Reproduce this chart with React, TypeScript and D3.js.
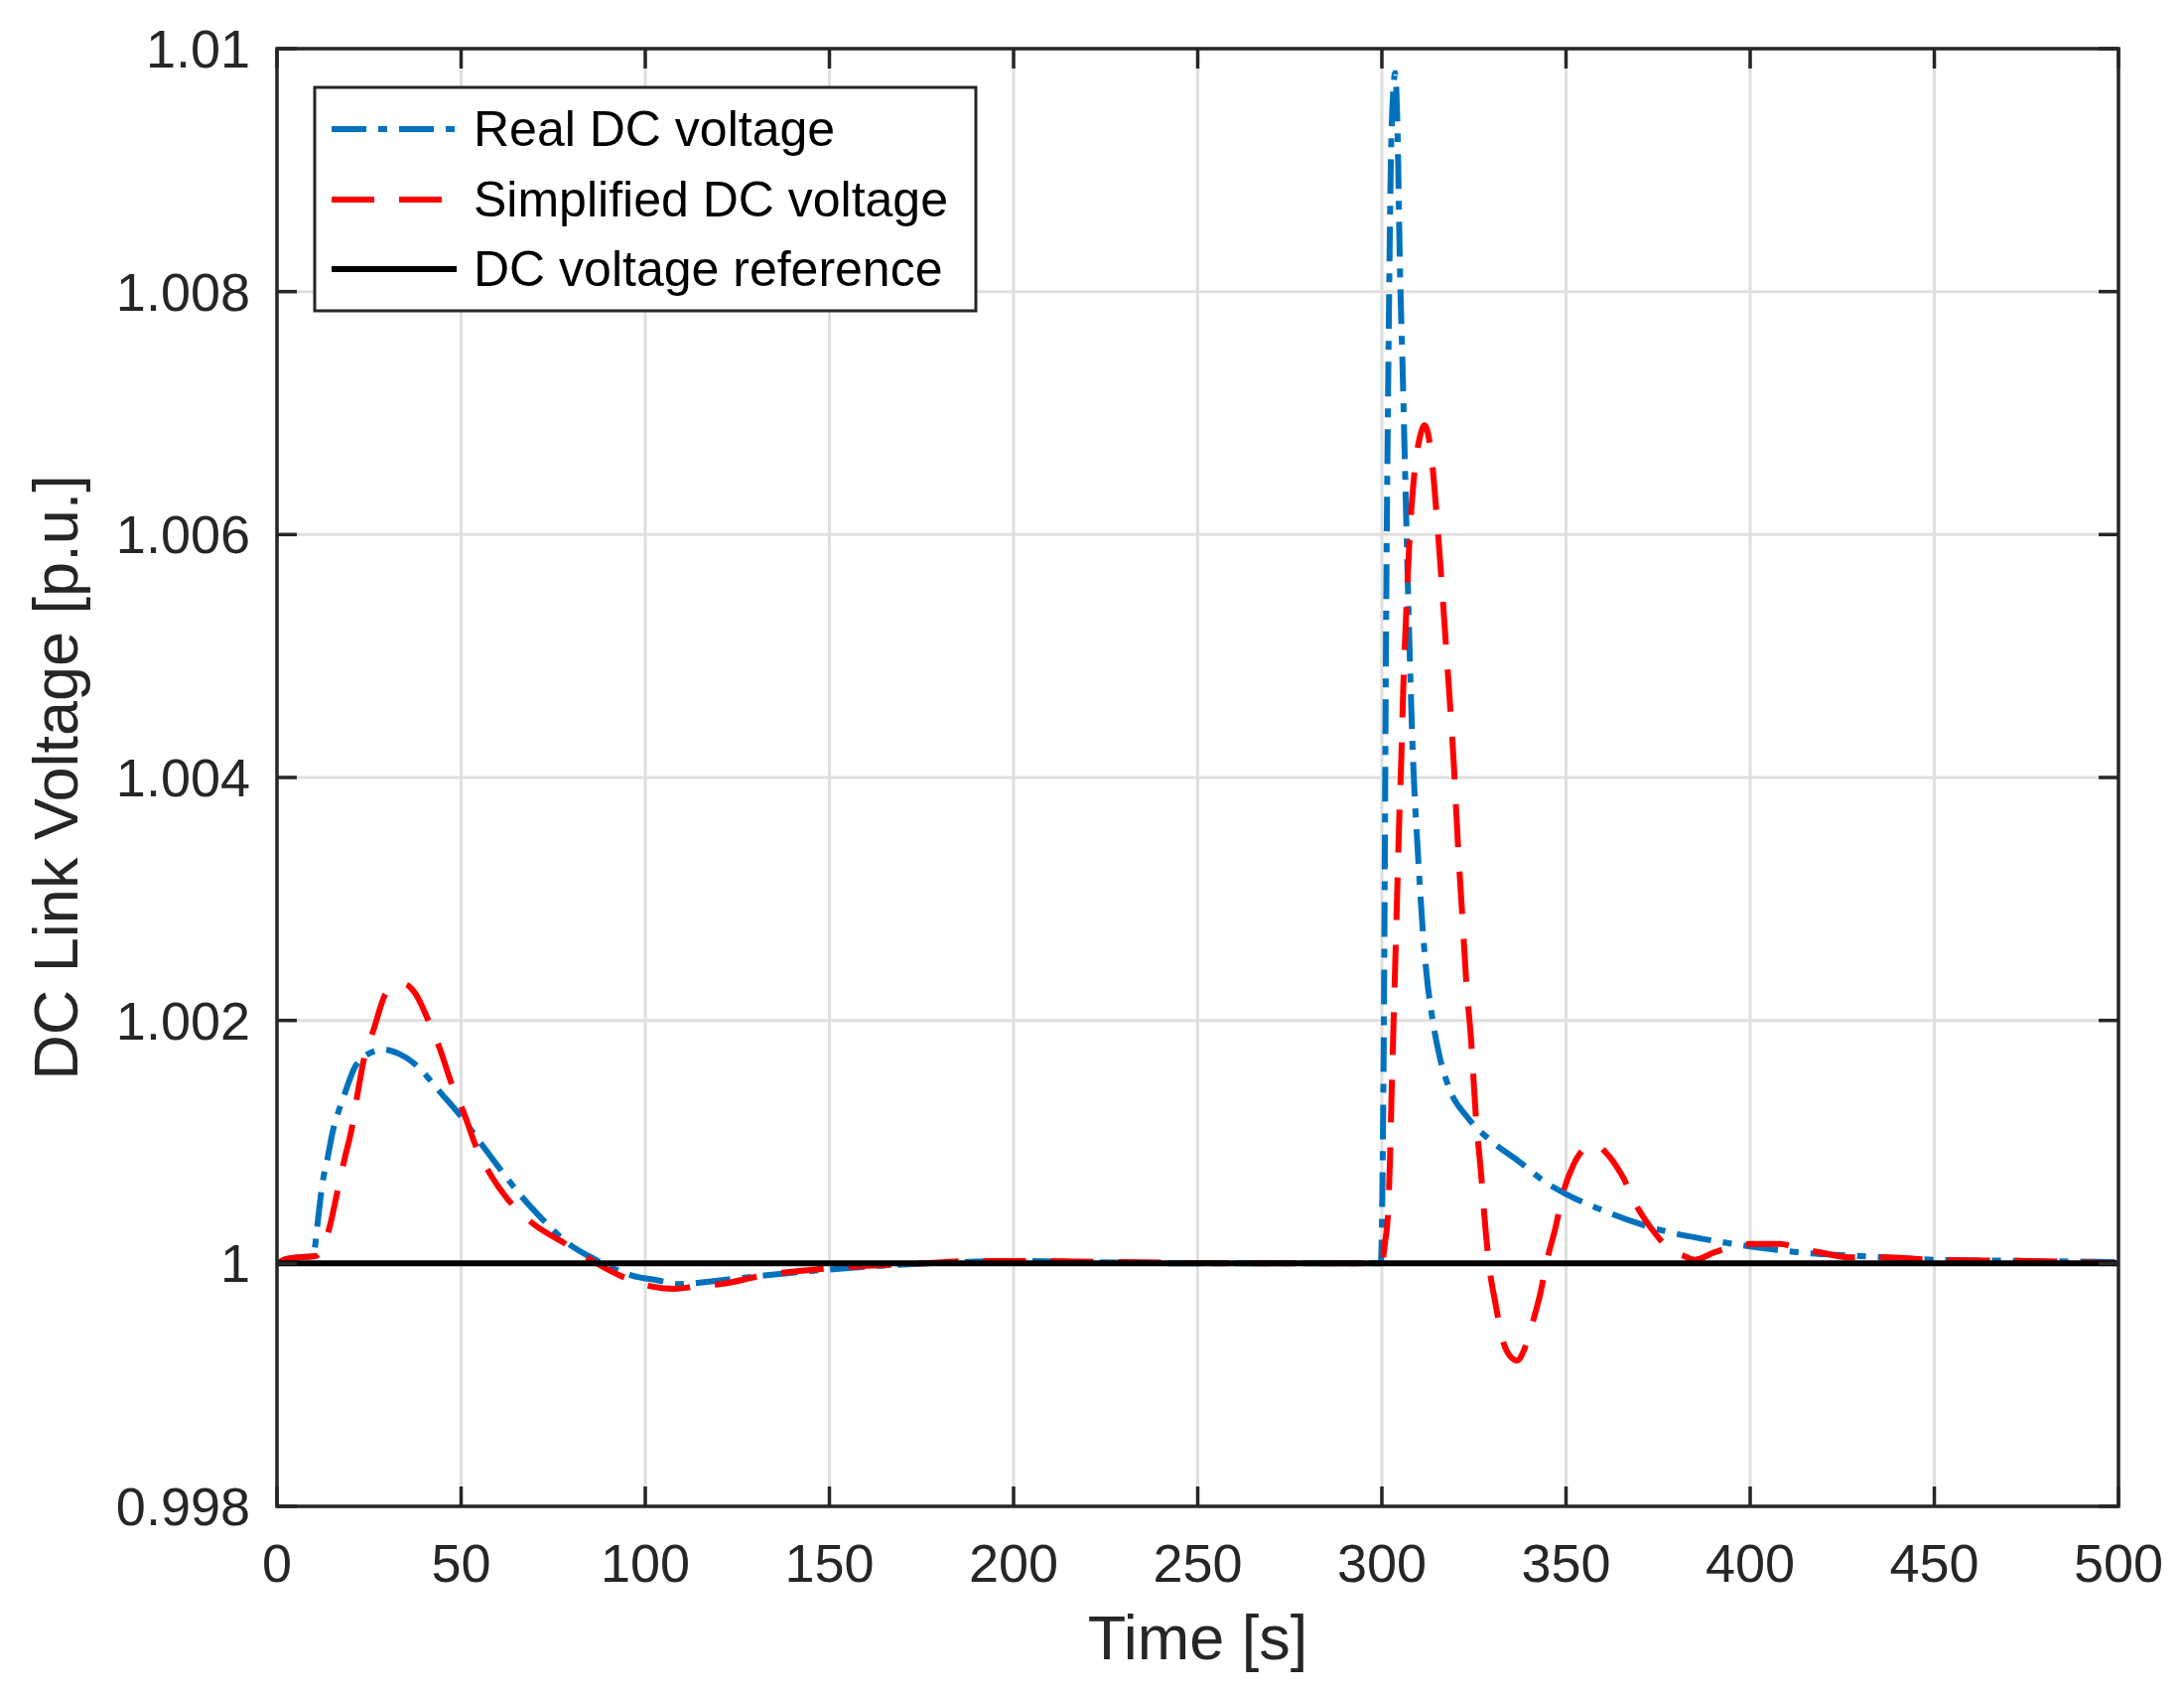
import React from "react";
import * as d3 from "d3";

// time axis ticks and voltage ticks
const xTicks = [0, 50, 100, 150, 200, 250, 300, 350, 400, 450, 500];
const yTicks = [0.998, 1, 1.002, 1.004, 1.006, 1.008, 1.01];
const yTickLabels = ["0.998", "1", "1.002", "1.004", "1.006", "1.008", "1.01"];

const legendLabels = ["Real DC voltage", "Simplified DC voltage", "DC voltage reference"];

// Real DC voltage
const realTime = [
  0, 2, 6, 10, 10.3, 11, 12.4, 13.7, 15.1, 16.4, 18.2, 20.9, 24.5, 29, 33.5, 37.1, 39.8,
  44.3, 49.7, 55.1, 60.5, 65.9, 72.2, 78.4, 86.5, 91.9, 96.4, 103.5, 108.9, 114.3, 123.3,
  132.3, 150, 170, 185, 200, 220, 250, 280, 299.7, 300.5, 301.2, 301.8, 302.4, 303.2,
  303.6, 304.2, 304.9, 305.6, 306.4, 307.3, 308.4, 309.8, 310.9, 312, 313.8, 315.7,
  318.3, 323.3, 330, 337.2, 344.4, 350.7, 359.7, 369.5, 377.6, 387.5, 400, 413.6, 427,
  436, 450, 475, 500,
];
const realVolt = [
  1.0, 1.00003, 1.00005, 1.00006, 1.00013, 1.00032, 1.00067, 1.00086, 1.00108, 1.00122,
  1.00138, 1.0016, 1.00172, 1.00176, 1.00172, 1.00165, 1.00157, 1.00141, 1.00122, 1.001,
  1.00078, 1.00057, 1.00036, 1.00018, 1.00003, 0.99995, 0.9999, 0.99986, 0.99983,
  0.99984, 0.99987, 0.9999, 0.99995, 0.99999, 1.00001, 1.00002, 1.00001, 1.0, 1.0, 1.0,
  1.0018, 1.0055, 1.0075, 1.009, 1.0097, 1.0098, 1.0094, 1.0082, 1.0074, 1.0064, 1.0053,
  1.0042, 1.00337, 1.00283, 1.00242, 1.002, 1.0017, 1.00144, 1.0012, 1.001, 1.00084,
  1.00067, 1.00056, 1.00044, 1.00033, 1.00026, 1.0002, 1.00014, 1.00009, 1.000065,
  1.00005, 1.00003, 1.00002, 1.00001,
];

// Simplified DC voltage
const simTime = [
  0, 2, 6, 10.5, 14.2, 16.4, 18.2, 20.5, 21.8, 23.6, 26.3, 29.5, 32, 34.5, 37.6, 41.1,
  44.3, 47.4, 50.6, 54.2, 57.8, 64, 69.4, 78.4, 86.5, 94.6, 101.8, 108, 113.5, 120.6,
  132, 150, 175, 190, 200, 230, 260, 300, 300.8, 301.7, 302.2, 302.6, 303.1, 303.7,
  304.2, 304.7, 305.3, 305.8, 306.5, 307.4, 308.9, 310.3, 311.6, 313.4, 315.1, 317.6,
  319.4, 320.8, 321.9, 323, 324.2, 325.5, 326.9, 328.2, 329.1, 330.9, 332.7, 334.7,
  336.7, 338.5, 340.8, 343, 344.8, 347.1, 349.3, 352, 355.2, 357.9, 360.6, 365.1, 369.6,
  374.1, 377.6, 382.1, 385, 390.2, 395.6, 400, 408.1, 413.6, 419, 427, 436, 450, 475, 500,
];
const simVolt = [
  1.0, 1.00003, 1.00005, 1.00006, 1.00029, 1.00059, 1.00084, 1.00114, 1.00138, 1.00168,
  1.00193, 1.00222, 1.00228, 1.0023, 1.00222, 1.002, 1.00176, 1.00148, 1.00125, 1.00095,
  1.00074, 1.00048, 1.00033, 1.00016, 1.000005, 0.99988, 0.99981, 0.99979, 0.99981,
  0.99983, 0.9999, 0.99996, 1.0, 1.00002, 1.00002, 1.00001, 1.0, 1.0, 1.00016, 1.00043,
  1.00086, 1.00135, 1.0019, 1.00255, 1.0031, 1.00364, 1.00418, 1.00473, 1.00528,
  1.0059, 1.00653, 1.0068, 1.0069, 1.00666, 1.00607, 1.005, 1.00418, 1.00337, 1.00283,
  1.00228, 1.00185, 1.00122, 1.00075, 1.00026, 0.99999, 0.99966, 0.99938, 0.99924,
  0.9992, 0.99928, 0.9995, 0.99975, 1.00002, 1.00029, 1.00059, 1.00081, 1.00095,
  1.00098, 1.00092, 1.00073, 1.00045, 1.00025, 1.00013, 1.00006, 1.00003, 1.00009,
  1.00014, 1.00016, 1.00016, 1.00012, 1.00009, 1.00005, 1.00005, 1.00003, 1.00002, 1.0,
];

// DC voltage reference
const refTime = [0, 500];
const refVolt = [1, 1];

const W = 2200;
const H = 1707;
const left = 279;
const right = 2134;
const top = 49;
const bottom = 1517;

const axisColor = "#262626";
const gridColor = "#dfdfdf";
const font = "'Liberation Sans', Arial, Helvetica, sans-serif";

const App: React.FC = () => {
  const x = d3.scaleLinear().domain([0, 500]).range([left, right]);
  const y = d3.scaleLinear().domain([0.998, 1.01]).range([bottom, top]);

  const line = d3
    .line<[number, number]>()
    .x((d) => x(d[0]))
    .y((d) => y(d[1]))
    .curve(d3.curveMonotoneX);

  const zip = (t: number[], v: number[]) => t.map((ti, i) => [ti, v[i]] as [number, number]);

  const series = [
    { data: zip(realTime, realVolt), color: "#0072BD", dash: "35 12 9 12" },
    { data: zip(simTime, simVolt), color: "#FF0000", dash: "43 25" },
    { data: zip(refTime, refVolt), color: "#000000", dash: "none" },
  ];

  const tick = 20;
  const legX = 317;
  const legY = 88;
  const rowY = [130, 201, 271];

  return (
    <svg
      width={W}
      height={H}
      style={{ position: "absolute", left: 0, top: 0, background: "#fff" }}
    >
      <rect x={0} y={0} width={W} height={H} fill="#fff" />

      {/* grid */}
      {xTicks.map((t) => (
        <line key={"gx" + t} x1={x(t)} x2={x(t)} y1={top} y2={bottom} stroke={gridColor} strokeWidth={3} />
      ))}
      {yTicks.map((t) => (
        <line key={"gy" + t} x1={left} x2={right} y1={y(t)} y2={y(t)} stroke={gridColor} strokeWidth={3} />
      ))}

      {/* curves */}
      <g clipPath="url(#plotClip)">
        {series.map((s, i) => (
          <path
            key={i}
            d={line(s.data) || ""}
            fill="none"
            stroke={s.color}
            strokeWidth={6}
            strokeDasharray={s.dash}
            strokeLinejoin="round"
          />
        ))}
      </g>
      <defs>
        <clipPath id="plotClip">
          <rect x={left} y={top - 4} width={right - left} height={bottom - top + 8} />
        </clipPath>
      </defs>

      {/* ticks */}
      {xTicks.map((t) => (
        <g key={"tx" + t} stroke={axisColor} strokeWidth={3.5}>
          <line x1={x(t)} x2={x(t)} y1={bottom} y2={bottom - tick} />
          <line x1={x(t)} x2={x(t)} y1={top} y2={top + tick} />
        </g>
      ))}
      {yTicks.map((t) => (
        <g key={"ty" + t} stroke={axisColor} strokeWidth={3.5}>
          <line x1={left} x2={left + tick} y1={y(t)} y2={y(t)} />
          <line x1={right} x2={right - tick} y1={y(t)} y2={y(t)} />
        </g>
      ))}

      {/* box */}
      <rect
        x={left}
        y={top}
        width={right - left}
        height={bottom - top}
        fill="none"
        stroke={axisColor}
        strokeWidth={3.5}
      />

      {/* tick labels */}
      {xTicks.map((t) => (
        <text
          key={"lx" + t}
          x={x(t)}
          y={bottom + 76}
          textAnchor="middle"
          fontFamily={font}
          fontSize={54}
          fill={axisColor}
        >
          {t}
        </text>
      ))}
      {yTicks.map((t, i) => (
        <text
          key={"ly" + t}
          x={252}
          y={y(t) + 19}
          textAnchor="end"
          fontFamily={font}
          fontSize={54}
          fill={axisColor}
        >
          {yTickLabels[i]}
        </text>
      ))}

      {/* axis titles */}
      <text
        x={(left + right) / 2}
        y={1671}
        textAnchor="middle"
        fontFamily={font}
        fontSize={63}
        fill={axisColor}
      >
        Time [s]
      </text>
      <text
        transform={`translate(78, ${(top + bottom) / 2}) rotate(-90)`}
        textAnchor="middle"
        fontFamily={font}
        fontSize={63}
        fill={axisColor}
      >
        DC Link Voltage [p.u.]
      </text>

      {/* legend */}
      <rect x={legX} y={legY} width={666} height={225} fill="#fff" stroke={axisColor} strokeWidth={3} />
      {series.map((s, i) => (
        <g key={"leg" + i}>
          <line
            x1={334}
            x2={460}
            y1={rowY[i]}
            y2={rowY[i]}
            stroke={s.color}
            strokeWidth={6}
            strokeDasharray={s.dash}
          />
          <text x={477} y={rowY[i] + 17} fontFamily={font} fontSize={50} fill="#000">
            {legendLabels[i]}
          </text>
        </g>
      ))}
    </svg>
  );
};

export default App;
